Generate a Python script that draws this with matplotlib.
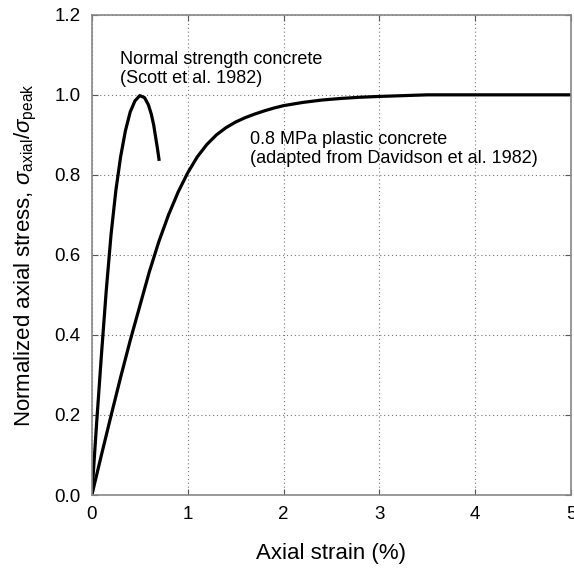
import matplotlib
matplotlib.use('Agg')
import matplotlib.pyplot as plt

plt.rcParams['font.family'] = ['Liberation Sans', 'DejaVu Sans']
plt.rcParams['mathtext.fontset'] = 'custom'
plt.rcParams['mathtext.rm'] = 'Liberation Sans'
plt.rcParams['mathtext.it'] = 'Liberation Sans:italic'

# Normal strength concrete (Scott et al. 1982)
scott_strain = [0.0, 0.05, 0.1, 0.15, 0.2, 0.25, 0.3, 0.35, 0.4, 0.45, 0.5,
                0.55, 0.59, 0.62, 0.645, 0.665, 0.685, 0.703]
scott_stress = [0.0, 0.18, 0.35, 0.51, 0.65, 0.76, 0.845, 0.91, 0.957, 0.985, 0.998,
                0.993, 0.975, 0.952, 0.925, 0.895, 0.865, 0.835]

# 0.8 MPa plastic concrete (adapted from Davidson et al. 1982)
plastic_strain = [0.0, 0.1, 0.2, 0.3, 0.4, 0.5, 0.6, 0.7, 0.8, 0.9, 1.0, 1.1, 1.2, 1.3,
                  1.4, 1.5, 1.6, 1.7, 1.8, 1.9, 2.0, 2.2, 2.4, 2.6, 2.8, 3.0, 3.25, 3.5, 5.0]
plastic_stress = [0.0, 0.1, 0.198, 0.294, 0.386, 0.472, 0.558, 0.634, 0.7, 0.757, 0.805,
                  0.845, 0.876, 0.9, 0.918, 0.932, 0.943, 0.952, 0.96, 0.967, 0.973,
                  0.981, 0.987, 0.991, 0.994, 0.996, 0.998, 1.0, 1.0]

xticks = [0, 1, 2, 3, 4, 5]
yticks = [0.0, 0.2, 0.4, 0.6, 0.8, 1.0, 1.2]

fig = plt.figure(figsize=(5.74, 5.69), dpi=100)
ax = fig.add_axes([0.160, 0.130, 0.835, 0.844])

ax.plot(scott_strain, scott_stress, color='black', lw=2.3, solid_capstyle='butt',
        solid_joinstyle='round')
ax.plot(plastic_strain, plastic_stress, color='black', lw=2.3, solid_capstyle='butt',
        solid_joinstyle='round')

ax.set_xlim(0, 5)
ax.set_ylim(0, 1.2)
ax.set_xticks(xticks)
ax.set_yticks(yticks)
ax.set_xticklabels([str(t) for t in xticks])
ax.set_yticklabels([f'{t:.1f}' for t in yticks])
ax.tick_params(direction='in', top=True, right=True, length=4, width=0.8,
               labelsize=13.5, color='#555555', pad=8)
ax.grid(True, linestyle=(0, (1, 2.5)), color='#777777', lw=0.8)
for s in ax.spines.values():
    s.set_color('#888888')
    s.set_linewidth(1.2)

ax.text(0.29, 1.11, 'Normal strength concrete\n(Scott et al. 1982)',
        fontsize=13, va='top', ha='left', linespacing=1.15)
ax.text(1.65, 0.91, '0.8 MPa plastic concrete\n(adapted from Davidson et al. 1982)',
        fontsize=13, va='top', ha='left', linespacing=1.15)

ax.set_xlabel('Axial strain (%)', fontsize=16, labelpad=14)
ax.set_ylabel(r'Normalized axial stress, $\sigma_{\mathrm{axial}}/\sigma_{\mathrm{peak}}$',
              fontsize=16, labelpad=11)

fig.savefig('out.png', dpi=100)
